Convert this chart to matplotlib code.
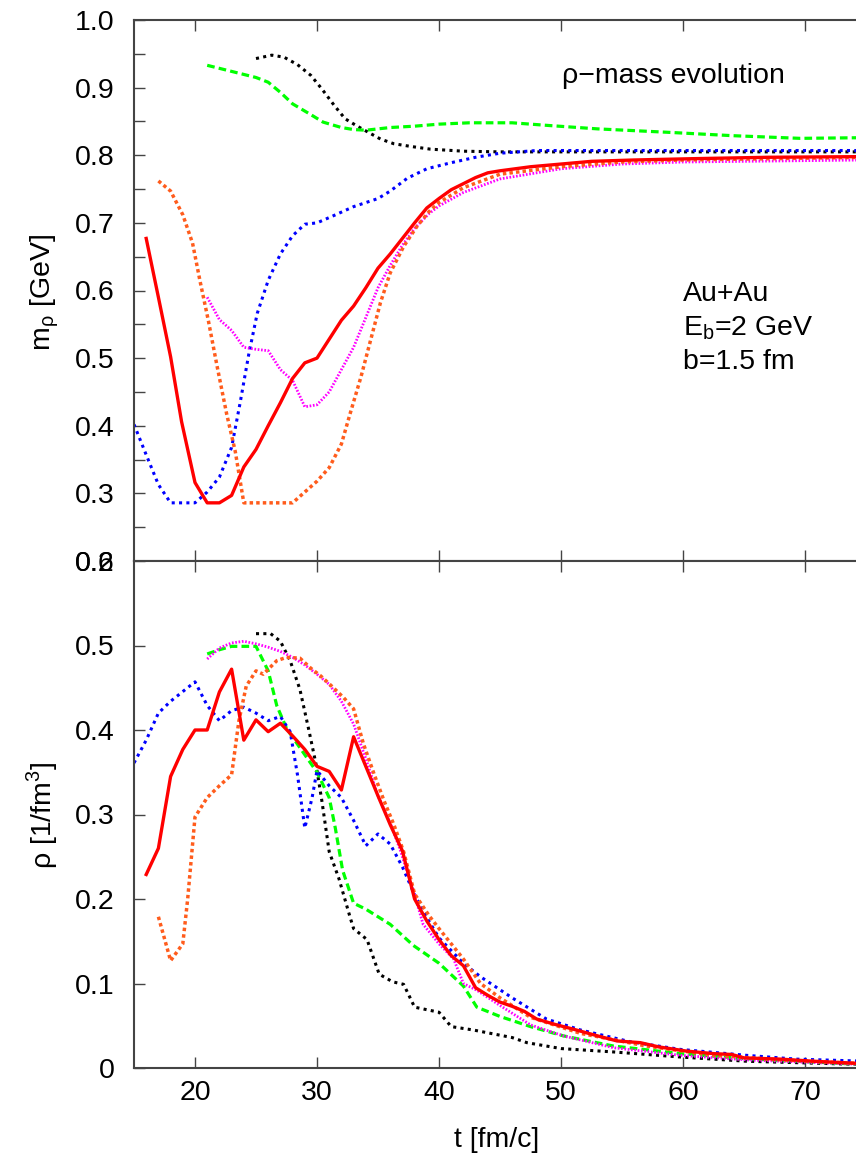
import numpy as np
import matplotlib
matplotlib.use('Agg')
import matplotlib.pyplot as plt
from matplotlib.ticker import MultipleLocator, FormatStrFormatter

plt.rcParams['font.family'] = ['Liberation Sans', 'DejaVu Sans']
plt.rcParams['mathtext.fontset'] = 'custom'
plt.rcParams['mathtext.rm'] = 'Liberation Sans'

# %%
# rho mass m_rho(t) [GeV], top panel
t_red_m = [16, 17, 18, 18.9, 20, 21, 22, 23, 24, 25, 26, 27, 28, 29, 30, 31, 32, 33, 34, 35, 36, 37, 38, 39,
           40, 41, 42, 43, 44, 45, 47.5, 50, 52.5, 56, 61, 67, 75]
m_red = [0.677, 0.59, 0.502, 0.406, 0.316, 0.286, 0.286, 0.297, 0.339, 0.365, 0.40, 0.434, 0.47, 0.493, 0.50,
         0.528, 0.556, 0.577, 0.604, 0.633, 0.654, 0.677, 0.70, 0.722, 0.736, 0.749, 0.758, 0.767, 0.774, 0.777,
         0.783, 0.787, 0.791, 0.793, 0.795, 0.797, 0.798]

t_orange_m = [17, 18, 19, 19.8, 20.4, 21.1, 21.8, 22.6, 23.3, 24, 25, 26, 27, 28, 29, 30, 31, 32, 32.7, 33.6,
              34.4, 35.2, 36, 37.1, 38.2, 39.2, 40, 42, 45, 50, 55, 60, 75]
m_orange = [0.762, 0.747, 0.712, 0.67, 0.615, 0.555, 0.489, 0.417, 0.362, 0.286, 0.286, 0.286, 0.286, 0.286,
            0.302, 0.318, 0.338, 0.373, 0.417, 0.472, 0.527, 0.582, 0.626, 0.665, 0.695, 0.717, 0.73, 0.752,
            0.772, 0.783, 0.79, 0.793, 0.797]

t_magenta_m = [21, 22, 23, 24, 25, 26, 27, 28, 29, 30, 31, 32, 33, 34, 35, 36, 37, 38, 39.2, 40, 42, 45, 50,
               55, 60, 75]
m_magenta = [0.59, 0.557, 0.541, 0.516, 0.513, 0.511, 0.483, 0.467, 0.428, 0.431, 0.45, 0.483, 0.516, 0.56,
             0.604, 0.637, 0.667, 0.692, 0.714, 0.725, 0.745, 0.765, 0.78, 0.787, 0.79, 0.793]

t_blue_m = [15, 16, 17, 18, 20, 21, 22, 23, 23.7, 24.4, 25.1, 26, 27, 28, 29, 30, 31.4, 33, 35, 36, 37.4, 39,
            41, 43, 45, 48, 75]
m_blue = [0.402, 0.357, 0.313, 0.286, 0.286, 0.302, 0.324, 0.368, 0.434, 0.505, 0.566, 0.615, 0.654, 0.681,
          0.698, 0.70, 0.711, 0.724, 0.736, 0.747, 0.766, 0.78, 0.789, 0.797, 0.803, 0.807, 0.807]

t_green_m = [21, 23, 25, 26, 27, 28, 29.5, 30.5, 32, 33, 34, 36, 38, 40, 42.5, 46, 49, 53, 58.7, 64, 69.6, 75]
m_green = [0.933, 0.924, 0.915, 0.908, 0.893, 0.876, 0.86, 0.849, 0.841, 0.838, 0.837, 0.841, 0.843, 0.846,
           0.848, 0.848, 0.844, 0.839, 0.834, 0.829, 0.825, 0.826]

t_black_m = [25, 26.3, 27.3, 28.4, 29.5, 30.4, 31.4, 32.3, 33.3, 34.2, 35.2, 36.3, 37.7, 39.3, 42, 45, 75]
m_black = [0.943, 0.948, 0.945, 0.934, 0.918, 0.898, 0.874, 0.854, 0.843, 0.834, 0.824, 0.817, 0.813, 0.809,
           0.806, 0.805, 0.805]

# %%
# density rho(t) [1/fm^3], bottom panel
t_red_d = [16, 17, 18, 19, 20, 21, 22, 23, 24, 25, 26, 27, 28, 29, 30, 31, 32, 33, 34, 35, 36, 37, 38, 39, 40,
           41, 42, 43, 44, 45, 46, 47, 48, 49.4, 51, 53, 54.6, 56.5, 58, 60.3, 62.5, 64, 65, 68, 70.7, 75]
d_red = [0.229, 0.26, 0.345, 0.377, 0.40, 0.40, 0.445, 0.472, 0.388, 0.412, 0.398, 0.408, 0.393, 0.377, 0.357,
         0.351, 0.329, 0.392, 0.357, 0.322, 0.288, 0.257, 0.20, 0.174, 0.152, 0.133, 0.121, 0.095, 0.086, 0.078,
         0.073, 0.067, 0.058, 0.052, 0.046, 0.038, 0.032, 0.030, 0.025, 0.020, 0.017, 0.016, 0.012, 0.0105,
         0.008, 0.005]

t_orange_d = [17, 18, 19, 19.4, 20, 21, 22, 23, 23.6, 24.2, 25, 25.6, 26.7, 27.5, 28.6, 29.5, 30.3, 31.2, 32.2,
              33, 33.8, 34.7, 35.5, 36.3, 37.1, 38, 39.2, 40, 42, 43.4, 45, 47.5, 51.6, 57, 62.5, 68, 75]
d_orange = [0.179, 0.127, 0.147, 0.20, 0.297, 0.32, 0.334, 0.347, 0.411, 0.452, 0.47, 0.466, 0.482, 0.486,
            0.485, 0.473, 0.464, 0.452, 0.438, 0.425, 0.384, 0.347, 0.316, 0.288, 0.256, 0.206, 0.18, 0.165,
            0.129, 0.10, 0.083, 0.06, 0.041, 0.026, 0.015, 0.0096, 0.005]

t_magenta_d = [21, 22, 23, 24, 25, 26, 27, 28, 29, 30, 31, 32, 33, 34, 35, 36, 36.8, 38, 38.7, 40, 41.2, 42,
               43.1, 45, 47.5, 50.2, 54.3, 59.8, 65.2, 75]
d_magenta = [0.484, 0.497, 0.503, 0.505, 0.502, 0.498, 0.493, 0.486, 0.477, 0.466, 0.454, 0.434, 0.407, 0.366,
             0.322, 0.29, 0.259, 0.205, 0.17, 0.147, 0.129, 0.10, 0.092, 0.074, 0.051, 0.038, 0.024, 0.015,
             0.0096, 0.004]

t_blue_d = [15, 16, 17, 18, 20, 21, 22, 23, 24, 25, 26, 27, 27.8, 28.4, 29, 29.6, 30, 31, 32, 33, 34, 35, 36, 37,
            38, 39, 40, 42, 43.4, 46, 48.8, 51.6, 55.7, 59.8, 65.2, 69.3, 75]
d_blue = [0.361, 0.388, 0.42, 0.434, 0.457, 0.429, 0.411, 0.423, 0.427, 0.42, 0.411, 0.416, 0.398, 0.347, 0.284,
          0.32, 0.352, 0.334, 0.32, 0.293, 0.263, 0.277, 0.265, 0.238, 0.205, 0.178, 0.154, 0.124, 0.108, 0.083,
          0.058, 0.045, 0.031, 0.022, 0.015, 0.0105, 0.008]

t_green_d = [21, 22, 23, 25, 26, 26.7, 27.5, 28.6, 30, 31, 31.5, 32.1, 33, 34, 36, 37.9, 40, 42, 43.1, 45, 47.5,
             50.2, 54.3, 59.8, 65.2, 75]
d_green = [0.49, 0.495, 0.499, 0.499, 0.47, 0.429, 0.402, 0.379, 0.35, 0.32, 0.284, 0.234, 0.195, 0.188, 0.17,
           0.145, 0.124, 0.097, 0.072, 0.061, 0.049, 0.038, 0.026, 0.017, 0.011, 0.004]

t_black_d = [25, 26.2, 27, 27.8, 28.6, 29.3, 29.9, 30.4, 31, 31.8, 32.7, 33, 34.1, 35.1, 36.2, 37.1, 38, 40, 41,
             42.8, 46, 47.2, 50, 54.3, 59.8, 65.2, 75]
d_black = [0.514, 0.514, 0.505, 0.482, 0.448, 0.402, 0.361, 0.316, 0.256, 0.224, 0.179, 0.165, 0.152, 0.111,
           0.102, 0.099, 0.072, 0.066, 0.049, 0.045, 0.036, 0.030, 0.023, 0.019, 0.013, 0.008, 0.004]

# %%
styles = {
    'black': dict(color='k', lw=2.2, ls=(0, (1.0, 1.4))),
    'green': dict(color='#00ff00', lw=2.3, ls=(0, (2.4, 1.3))),
    'blue': dict(color='#0000ff', lw=2.2, ls=(0, (1.0, 1.4))),
    'magenta': dict(color='#ff00ff', lw=2.0, ls=(0, (0.6, 0.6))),
    'orange': dict(color='#ff5c1c', lw=2.5, ls=(0, (1.0, 0.9))),
    'red': dict(color='#ff0000', lw=2.4, ls='-'),
}
fs = 20.5

fig = plt.figure(figsize=(8.56, 11.64), dpi=100)
W, H = 856.0, 1164.0
x0, x1 = 134, 866   # x=15 .. x=75 in pixels (right spine off canvas)
ax1 = fig.add_axes([x0 / W, 1 - 561 / H, (x1 - x0) / W, (561 - 20) / H])
ax2 = fig.add_axes([x0 / W, 1 - 1068 / H, (x1 - x0) / W, (1068 - 561) / H])

top = [('black', t_black_m, m_black), ('green', t_green_m, m_green), ('blue', t_blue_m, m_blue),
       ('magenta', t_magenta_m, m_magenta), ('orange', t_orange_m, m_orange), ('red', t_red_m, m_red)]
bot = [('black', t_black_d, d_black), ('green', t_green_d, d_green), ('blue', t_blue_d, d_blue),
       ('magenta', t_magenta_d, d_magenta), ('orange', t_orange_d, d_orange), ('red', t_red_d, d_red)]

for name, t, v in top:
    ax1.plot(t, v, **styles[name])
for name, t, v in bot:
    ax2.plot(t, v, **styles[name])

for ax in (ax1, ax2):
    ax.set_xlim(15, 75)
    ax.xaxis.set_major_locator(MultipleLocator(10))
    ax.tick_params(which='both', direction='in', top=True, right=False, length=8, width=1.0,
                   color='#444444', labelsize=fs)
    ax.tick_params(axis='y', pad=14)
    ax.tick_params(axis='x', pad=9)
    for s in ax.spines.values():
        s.set_color('#444444')
        s.set_linewidth(1.5)

ax1.set_ylim(0.2, 1.0)
ax1.yaxis.set_major_locator(MultipleLocator(0.1))
ax1.yaxis.set_minor_locator(MultipleLocator(0.05))
ax1.yaxis.set_major_formatter(FormatStrFormatter('%.1f'))
ax1.tick_params(labelbottom=False)

ax2.set_ylim(0, 0.6)
ax2.yaxis.set_major_locator(MultipleLocator(0.1))
ax2.yaxis.set_major_formatter(FormatStrFormatter('%g'))

fig.text(45 / W, 1 - 293 / H, 'm$_\\mathregular{ρ}$ [GeV]', rotation=90, ha='center', va='center', fontsize=fs)
fig.text(42 / W, 1 - 815 / H, 'ρ [1/fm$^\\mathregular{3}$]', rotation=90, ha='center', va='center', fontsize=fs)
fig.text(497 / W, 1 - 1140 / H, 't [fm/c]', ha='center', va='center', fontsize=fs)

fig.text(562 / W, 1 - 76 / H, 'ρ−mass evolution', ha='left', va='center', fontsize=fs)
fig.text(683 / W, 1 - 294 / H, 'Au+Au', ha='left', va='center', fontsize=fs)
fig.text(683 / W, 1 - 328 / H, 'E$_\\mathregular{b}$=2 GeV', ha='left', va='center', fontsize=fs)
fig.text(683 / W, 1 - 362 / H, 'b=1.5 fm', ha='left', va='center', fontsize=fs)

fig.savefig('out.png', dpi=100)
